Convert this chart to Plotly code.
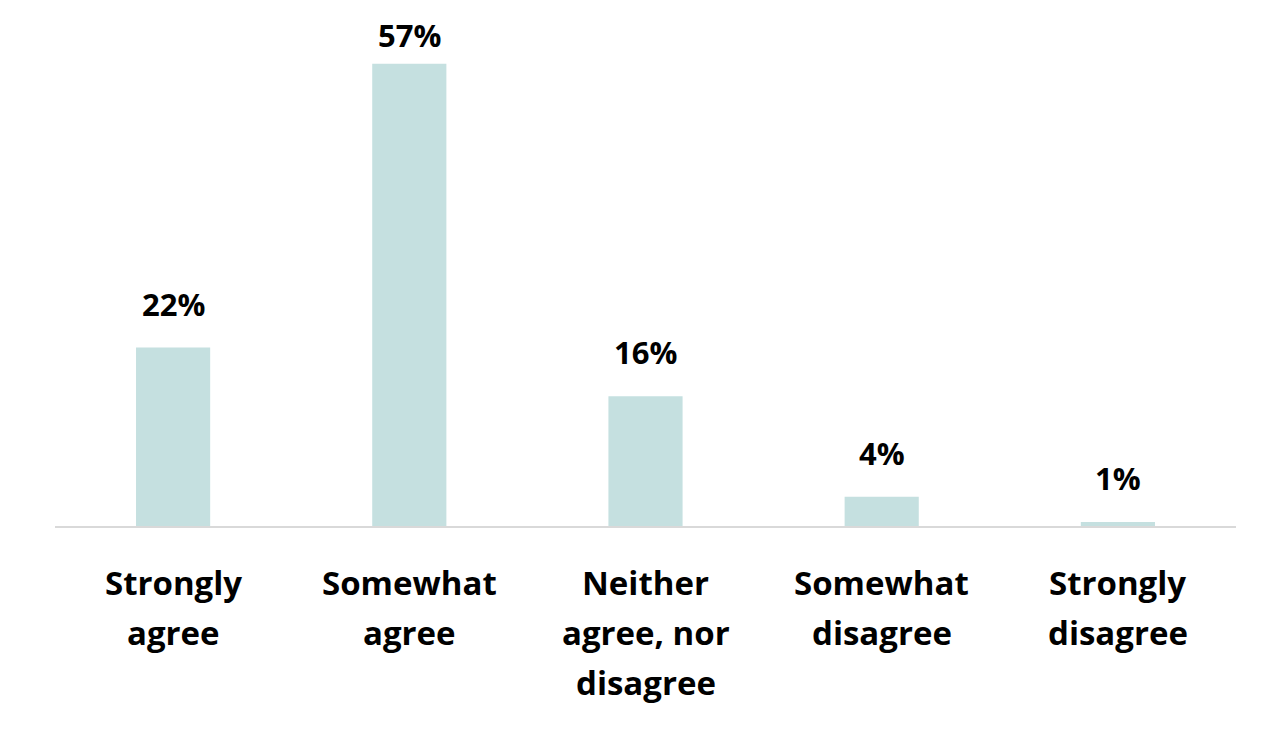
import plotly.graph_objects as go

categories = ["Strongly agree", "Somewhat agree", "Neither agree, nor disagree",
              "Somewhat disagree", "Strongly disagree"]
tick_lines = [["Strongly", "agree"], ["Somewhat", "agree"],
              ["Neither", "agree, nor", "disagree"],
              ["Somewhat", "disagree"], ["Strongly", "disagree"]]
values = [22, 57, 16, 3.6, 0.5]
value_labels = ["22%", "57%", "16%", "4%", "1%"]

FONT = "Open Sans"
fig = go.Figure(go.Bar(
    x=categories, y=values, marker=dict(color="#c5e0e0", line=dict(width=0)),
    hoverinfo="skip",
))

ann = []
for c, v, t in zip(categories, values, value_labels):
    ann.append(dict(x=c, y=v, text=t, showarrow=False, yanchor="middle",
                    yshift=44 if v < 50 else 29,
                    font=dict(family=FONT, size=31, color="#000000", weight=700)))
for c, lines in zip(categories, tick_lines):
    for i, ln in enumerate(lines):
        ann.append(dict(x=c, y=0, text=ln, showarrow=False, yanchor="middle",
                        yshift=-56 - 50 * i,
                        font=dict(family=FONT, size=33, color="#000000", weight=700)))

fig.update_layout(
    width=1281, height=738,
    margin=dict(l=55, r=45, t=20, b=212),
    paper_bgcolor="white", plot_bgcolor="white",
    bargap=0.686,
    showlegend=False,
    annotations=ann,
    xaxis=dict(showticklabels=False, showline=True, linecolor="#d9d9d9", linewidth=2,
               ticks="", showgrid=False, zeroline=False),
    yaxis=dict(range=[0, 62.4], visible=False, showgrid=False, zeroline=False),
)
fig.write_html("out.html")
